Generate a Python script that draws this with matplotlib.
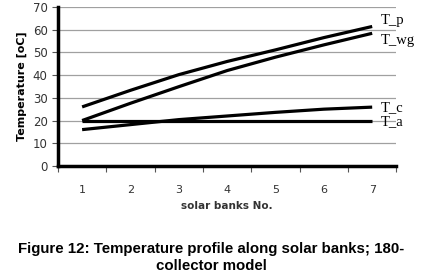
import matplotlib
matplotlib.use("Agg")
import matplotlib.pyplot as plt

banks = [1, 2, 3, 4, 5, 6, 7]
T_p = [26, 33.3, 40.2, 46.0, 51.1, 56.5, 61.4]
T_wg = [20, 27.6, 34.9, 42.0, 47.9, 53.3, 58.4]
T_c = [16, 18.2, 20.4, 22.0, 23.6, 25.0, 25.9]
T_a = [20, 20, 20, 20, 20, 20, 20]
series = [("T_p", T_p), ("T_wg", T_wg), ("T_c", T_c), ("T_a", T_a)]
yticks = [0, 10, 20, 30, 40, 50, 60, 70]

fig = plt.figure(figsize=(4.23, 2.78), dpi=100)
ax = fig.add_axes([0.137, 0.403, 0.80, 0.572])

for name, vals in series:
    ax.plot(banks, vals, color="black", lw=2.3, solid_capstyle="butt", zorder=3)

label_offsets = {"T_p": 2.5, "T_wg": -3.0, "T_c": 0.0, "T_a": -0.5}
for name, vals in series:
    ax.text(7.18, vals[-1] + label_offsets[name], name, family="Liberation Serif",
            fontsize=10.5, va="center", ha="left", clip_on=False)

ax.set_xlim(0.5, 7.5)
ax.set_ylim(0, 70)
ax.set_yticks(yticks)
ax.set_xticks(banks)
ax.set_xticks([0.5 + i for i in range(8)], minor=True)
ax.grid(axis="y", color="#a0a0a0", lw=0.9)
ax.set_axisbelow(True)
ax.tick_params(axis="x", which="major", length=0, pad=14, labelsize=8, labelcolor="#333333")
ax.tick_params(axis="x", which="minor", length=4, width=0.8, direction="out", color="#555555")
ax.tick_params(axis="y", length=4, width=0.8, labelsize=8.5, labelcolor="#333333", color="#555555")
for s in ["top", "right"]:
    ax.spines[s].set_visible(False)
for s in ["left", "bottom"]:
    ax.spines[s].set_linewidth(2.5)

ax.set_ylabel("Temperature [oC]", fontsize=8, fontweight="bold", labelpad=4)
ax.set_xlabel("solar banks No.", fontsize=7.5, fontweight="bold", color="#333333", labelpad=4)

fig.text(0.5, 0.075, "Figure 12: Temperature profile along solar banks; 180-\ncollector model",
         ha="center", va="center", family="Liberation Sans", fontweight="bold",
         fontsize=10.8, linespacing=1.25)

fig.savefig("out.png", dpi=100)
